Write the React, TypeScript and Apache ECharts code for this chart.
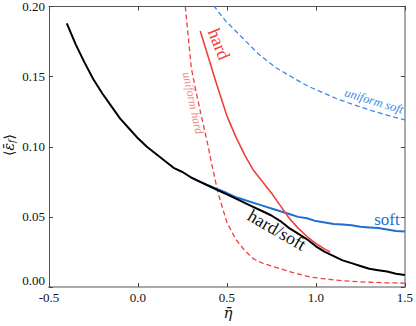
import React, { useEffect, useRef } from "react";
import * as echarts from "echarts";

const xTicks = [-0.5, 0.0, 0.5, 1.0, 1.5];
const yTicks = [0.0, 0.05, 0.1, 0.15, 0.2];

const hardSoft: [number, number][] = [
  [-0.4, 0.188], [-0.35, 0.173], [-0.3, 0.16], [-0.25, 0.148], [-0.2, 0.138],
  [-0.15, 0.129], [-0.1, 0.12], [-0.05, 0.113], [0.0, 0.106], [0.05, 0.1],
  [0.1, 0.095], [0.15, 0.09], [0.2, 0.085], [0.25, 0.082], [0.3, 0.078],
  [0.35, 0.075], [0.4, 0.072], [0.45, 0.069], [0.5, 0.066], [0.55, 0.063],
  [0.6, 0.06], [0.65, 0.057], [0.7, 0.054], [0.75, 0.051], [0.8, 0.047],
  [0.85, 0.042], [0.9, 0.038], [0.95, 0.034], [1.0, 0.029], [1.05, 0.025],
  [1.1, 0.022], [1.15, 0.019], [1.2, 0.017], [1.25, 0.015], [1.3, 0.013],
  [1.35, 0.012], [1.4, 0.011], [1.45, 0.0095], [1.5, 0.0085],
];

const soft: [number, number][] = [
  [0.3, 0.078], [0.35, 0.075], [0.4, 0.072], [0.45, 0.0695], [0.5, 0.067],
  [0.55, 0.064], [0.6, 0.062], [0.65, 0.06], [0.7, 0.058], [0.75, 0.056],
  [0.8, 0.054], [0.85, 0.052], [0.9, 0.05], [0.95, 0.049], [1.0, 0.047],
  [1.05, 0.046], [1.1, 0.045], [1.15, 0.0445], [1.2, 0.044], [1.25, 0.043],
  [1.3, 0.0425], [1.35, 0.042], [1.4, 0.041], [1.45, 0.04], [1.5, 0.0395],
];

const hard: [number, number][] = [
  [0.35, 0.1826], [0.4, 0.162], [0.436, 0.147], [0.5, 0.122], [0.55, 0.107],
  [0.6, 0.094], [0.65, 0.083], [0.7, 0.075], [0.75, 0.067], [0.8, 0.058],
  [0.85, 0.049], [0.9, 0.042], [0.95, 0.036], [1.0, 0.031], [1.05, 0.027],
  [1.08, 0.025],
];

const uniformHard: [number, number][] = [
  [0.266, 0.2], [0.3, 0.156], [0.33, 0.137], [0.358, 0.121], [0.39, 0.103],
  [0.414, 0.088], [0.45, 0.067], [0.5, 0.046], [0.55, 0.034], [0.6, 0.026],
  [0.65, 0.02], [0.7, 0.017], [0.77, 0.0142], [0.85, 0.011], [0.97, 0.0071],
  [1.05, 0.0058], [1.16, 0.0043], [1.3, 0.0034], [1.4, 0.003], [1.5, 0.0028],
];

const uniformSoft: [number, number][] = [
  [0.425, 0.2007], [0.49, 0.1901], [0.583, 0.1782], [0.676, 0.1663],
  [0.769, 0.1569], [0.862, 0.1499], [0.955, 0.1432], [1.049, 0.138],
  [1.114, 0.1344], [1.2, 0.1305], [1.3, 0.1263], [1.4, 0.1225], [1.5, 0.1191],
];

const FONT = "Liberation Serif, DejaVu Serif, serif";
const MATH = "DejaVu Serif, serif";
const RED = "#f0403c";
const BLUE = "#1e6fd0";
const BLUE_D = "#3d8ae6";

export default function App() {
  const ref = useRef<HTMLDivElement>(null);
  useEffect(() => {
    document.body.style.margin = "0";
    const chart = echarts.init(ref.current!, undefined, { renderer: "svg" });
    const lineSeries = (data: [number, number][], color: string, width: number, dashed: boolean, z: number) => ({
      type: "line",
      data,
      showSymbol: false,
      smooth: false,
      z,
      lineStyle: { color, width, type: dashed ? [5, 3] : "solid", join: "round" },
    });
    const axisCommon = {
      type: "value",
      splitLine: { show: false },
      axisTick: { show: true, inside: true, length: 4, lineStyle: { color: "#444", width: 1 } },
    };
    const richN = {
      n: { fontFamily: FONT, fontSize: 13, color: "#111" },
      z: { fontFamily: FONT, fontSize: 13, color: "#111", padding: [0, 0, 13, 0] },
    };
    chart.setOption({
      animation: false,
      textStyle: { fontFamily: FONT },
      grid: { left: 49, right: 9, top: 5, bottom: 39 },
      xAxis: [
        {
          ...axisCommon,
          min: -0.5, max: 1.5, interval: 0.5,
          position: "bottom",
          axisLine: { show: true, onZero: false, lineStyle: { color: "#aaa", width: 2 } },
          axisLabel: {
            margin: 4, color: "#111", fontFamily: FONT, fontSize: 13,
            formatter: (v: number) => `{n|${v.toFixed(1)}}`, rich: richN,
          },
        },
        {
          ...axisCommon,
          min: -0.5, max: 1.5, interval: 0.5,
          position: "top",
          axisLine: { show: true, onZero: false, lineStyle: { color: "#555", width: 1 } },
          axisLabel: { show: false },
        },
      ],
      yAxis: [
        {
          ...axisCommon,
          min: 0, max: 0.2, interval: 0.05,
          position: "left",
          axisLine: { show: true, onZero: false, lineStyle: { color: "#555", width: 1 } },
          axisLabel: {
            margin: 4, color: "#111", fontFamily: FONT, fontSize: 13,
            formatter: (v: number) => (v === 0 ? "{z|0.00}" : `{n|${v.toFixed(2)}}`),
            rich: richN,
          },
        },
        {
          ...axisCommon,
          min: 0, max: 0.2, interval: 0.05,
          position: "right",
          axisLine: { show: true, onZero: false, lineStyle: { color: "#aaa", width: 2 } },
          axisLabel: { show: false },
        },
      ],
      series: [
        lineSeries(uniformSoft, BLUE_D, 1.3, true, 2),
        lineSeries(uniformHard, RED, 1.3, true, 2),
        lineSeries(soft, BLUE, 2, false, 3),
        lineSeries(hard, RED, 1.6, false, 4),
        lineSeries(hardSoft, "#000", 2, false, 5),
      ],
      graphic: [
        { type: "text", x: 228, y: 313, z: 10,
          style: { text: "\u03b7\u0304", fill: "#111", font: `italic 15px ${MATH}`, align: "center", verticalAlign: "middle" } },
        { type: "text", x: 9, y: 145, rotation: Math.PI / 2, z: 10,
          style: {
            text: "{m|\u27e8}{e|\u03b5\u0304}{s|f}{m|\u27e9}",
            align: "center", verticalAlign: "middle",
            rich: {
              m: { font: `14px ${MATH}`, fill: "#111" },
              e: { font: `italic 14px ${MATH}`, fill: "#111" },
              s: { font: `italic 9px ${MATH}`, fill: "#111", padding: [6, 0, 0, 0] },
            },
          } },
        { type: "text", x: 219, y: 44, rotation: (-68 * Math.PI) / 180, z: 10,
          style: { text: "hard", fill: RED, font: `18px ${FONT}`, align: "center", verticalAlign: "middle" } },
        { type: "text", x: 193, y: 103, rotation: (-78 * Math.PI) / 180, z: 10,
          style: { text: "uniform hard", fill: "#f08a8a", font: `italic 12px ${FONT}`, align: "center", verticalAlign: "middle" } },
        { type: "text", x: 374, y: 101, rotation: (-17 * Math.PI) / 180, z: 10,
          style: { text: "uniform soft", fill: BLUE_D, font: `italic 12.5px ${FONT}`, align: "center", verticalAlign: "middle" } },
        { type: "text", x: 387, y: 219, z: 10,
          style: { text: "soft", fill: BLUE, font: `17px ${FONT}`, align: "center", verticalAlign: "middle" } },
        { type: "text", x: 277, y: 230, rotation: (-30 * Math.PI) / 180, z: 10,
          style: { text: "hard/soft", fill: "#111", font: `18px ${FONT}`, align: "center", verticalAlign: "middle" } },
      ],
    });
    return () => chart.dispose();
  }, []);
  return <div ref={ref} style={{ width: 416, height: 326 }} />;
}
